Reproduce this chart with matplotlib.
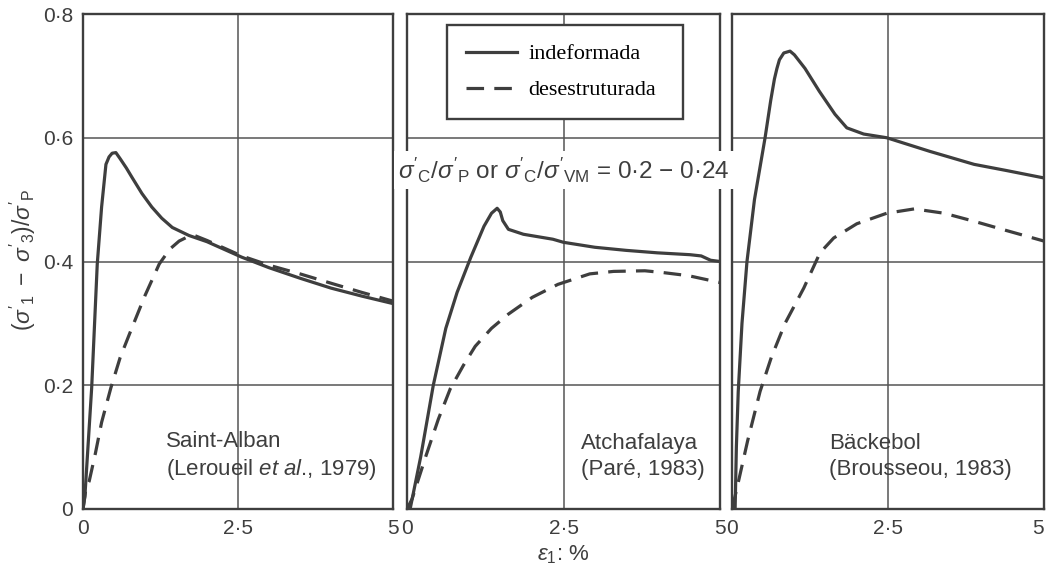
import matplotlib
matplotlib.use("Agg")
import matplotlib.pyplot as plt

plt.rcParams['font.family'] = ['Liberation Sans', 'DejaVu Sans']
plt.rcParams['mathtext.fontset'] = 'custom'
plt.rcParams['mathtext.rm'] = 'Liberation Sans'
plt.rcParams['mathtext.it'] = 'Liberation Sans:italic'
plt.rcParams['mathtext.sf'] = 'Liberation Sans'

# ---------------- data ----------------
sa_und_x = [0, 0.03, 0.08, 0.14, 0.23, 0.30, 0.37, 0.42, 0.47, 0.53, 0.60, 0.70, 0.79,
            0.95, 1.11, 1.27, 1.44, 1.71, 2.00, 2.56, 3.00, 3.50, 4.00, 4.50, 5.00]
sa_und_y = [0, 0.02, 0.10, 0.196, 0.396, 0.488, 0.557, 0.569, 0.575, 0.576, 0.566, 0.551, 0.536,
            0.510, 0.488, 0.470, 0.455, 0.442, 0.432, 0.407, 0.390, 0.373, 0.357, 0.344, 0.332]
sa_rem_x = [0, 0.05, 0.10, 0.20, 0.30, 0.45, 0.60, 0.79, 1.00, 1.23, 1.40, 1.55, 1.71, 1.80,
            2.00, 2.56, 3.00, 3.50, 4.03, 4.50, 5.00]
sa_rem_y = [0, 0.035, 0.045, 0.09, 0.14, 0.196, 0.245, 0.293, 0.345, 0.396, 0.42, 0.433, 0.441,
            0.442, 0.434, 0.409, 0.394, 0.380, 0.364, 0.350, 0.336]

at_und_x = [0.05, 0.22, 0.42, 0.62, 0.80, 1.02, 1.23, 1.35, 1.44, 1.49, 1.53, 1.62, 1.86,
            2.33, 2.50, 3.00, 3.50, 4.00, 4.52, 4.70, 4.85, 5.00]
at_und_y = [0, 0.085, 0.20, 0.292, 0.35, 0.407, 0.457, 0.478, 0.486, 0.480, 0.466, 0.452, 0.444,
            0.436, 0.431, 0.423, 0.418, 0.414, 0.411, 0.409, 0.402, 0.400]
at_rem_x = [0, 0.08, 0.30, 0.50, 0.69, 0.90, 1.09, 1.35, 1.62, 2.00, 2.41, 2.92, 3.30, 3.80,
            4.10, 4.50, 5.00]
at_rem_y = [0, 0.016, 0.085, 0.145, 0.194, 0.232, 0.263, 0.292, 0.315, 0.342, 0.363, 0.380, 0.384,
            0.385, 0.382, 0.377, 0.366]

bk_und_x = [0.05, 0.07, 0.10, 0.16, 0.24, 0.36, 0.53, 0.62, 0.68, 0.72, 0.76, 0.83, 0.93, 1.00,
            1.17, 1.40, 1.65, 1.84, 2.11, 2.48, 3.17, 3.88, 4.40, 5.00]
bk_und_y = [0, 0.10, 0.19, 0.30, 0.40, 0.50, 0.60, 0.66, 0.695, 0.712, 0.726, 0.737, 0.740, 0.734,
            0.712, 0.675, 0.638, 0.616, 0.606, 0.600, 0.578, 0.557, 0.547, 0.535]
bk_rem_x = [0, 0.08, 0.25, 0.45, 0.63, 0.85, 1.15, 1.41, 1.63, 2.00, 2.48, 2.92, 3.40, 3.88,
            4.40, 5.00]
bk_rem_y = [0, 0.034, 0.11, 0.19, 0.245, 0.30, 0.357, 0.414, 0.438, 0.461, 0.478, 0.485, 0.478,
            0.465, 0.450, 0.433]

panel_labels = ["Saint-Alban\n(Leroueil $\\it{et\\ al}$., 1979)",
                "Atchafalaya\n(Paré, 1983)",
                "Bäckebol\n(Brousseou, 1983)"]
panel_label_x = [0.268, 0.555, 0.31]
legend_labels = ["indeformada", "desestruturada"]
x_ticks = [0, 2.5, 5]
x_tick_labels = ["0", "2·5", "5"]
y_ticks = [0, 0.2, 0.4, 0.6, 0.8]
y_tick_labels = ["0", "0·2", "0·4", "0·6", "0·8"]

# ---------------- figure ----------------
W, H = 1047, 567
fig = plt.figure(figsize=(W / 100, H / 100), dpi=100)
ink = '#3e3e3e'

lefts = [83, 407, 732]
widths = [310, 313, 312]
bottom_px, top_px = 509, 14

panels = [(sa_und_x, sa_und_y, sa_rem_x, sa_rem_y),
          (at_und_x, at_und_y, at_rem_x, at_rem_y),
          (bk_und_x, bk_und_y, bk_rem_x, bk_rem_y)]

axes = []
for i, (ux, uy, rx, ry) in enumerate(panels):
    ax = fig.add_axes([lefts[i] / W, (H - bottom_px) / H, widths[i] / W, (bottom_px - top_px) / H])
    ax.set_xlim(0, 5)
    ax.set_ylim(0, 0.8)
    for s in ax.spines.values():
        s.set_color(ink)
        s.set_linewidth(1.7)
    ax.axvline(2.5, color='#555555', lw=1.1, zorder=1)
    for yv in y_ticks[1:-1]:
        ax.axhline(yv, color='#555555', lw=1.1, zorder=1)
    l1, = ax.plot(ux, uy, color=ink, lw=2.3, solid_joinstyle='round', zorder=3)
    l2, = ax.plot(rx, ry, color=ink, lw=2.3, linestyle=(0, (5.5, 3.2)), zorder=3)
    ax.set_xticks(x_ticks)
    ax.set_xticklabels(x_tick_labels)
    ax.tick_params(axis='both', length=0, labelsize=15, labelcolor=ink, pad=7)
    if i == 2:
        ax.get_xticklabels()[-1].set_horizontalalignment('right')
    if i == 0:
        ax.set_yticks(y_ticks)
        ax.set_yticklabels(y_tick_labels)
    else:
        ax.set_yticks([])
    ax.text(panel_label_x[i], 0.106, panel_labels[i], transform=ax.transAxes,
            ha='left', va='center', fontsize=16, color=ink, linespacing=1.3)
    axes.append((ax, l1, l2))

ax2, l1, l2 = axes[1]
leg = ax2.legend([l1, l2], legend_labels, loc='upper left',
                 bbox_to_anchor=(0.128, 0.978, 0.754, 0.0), mode='expand',
                 borderaxespad=0.0,
                 prop={'family': 'Liberation Serif', 'size': 16},
                 frameon=True, fancybox=False, framealpha=1, edgecolor=ink,
                 handlelength=2.3, handletextpad=0.5, labelspacing=0.7,
                 borderpad=0.85, labelcolor='black')
leg.get_frame().set_linewidth(1.7)

fig.text(564 / W, 1 - 170 / H,
         r"$\sigma'_\mathrm{C}/\sigma'_\mathrm{P}$ or $\sigma'_\mathrm{C}/\sigma'_\mathrm{VM}$ = 0·2 $-$ 0·24",
         ha='center', va='center', fontsize=17.5, color=ink, zorder=10,
         bbox=dict(facecolor='white', edgecolor='none', pad=3))

fig.text(23 / W, 1 - 260 / H, r"$(\sigma'_1\ -\ \sigma'_3)/\sigma'_\mathrm{P}$",
         rotation=90, ha='center', va='center', fontsize=16.5, color=ink)
fig.text(563 / W, 1 - 555 / H, r"$\varepsilon_1$: %", ha='center', va='center',
         fontsize=16, color=ink)

fig.savefig("out.png", dpi=100, facecolor='white')
